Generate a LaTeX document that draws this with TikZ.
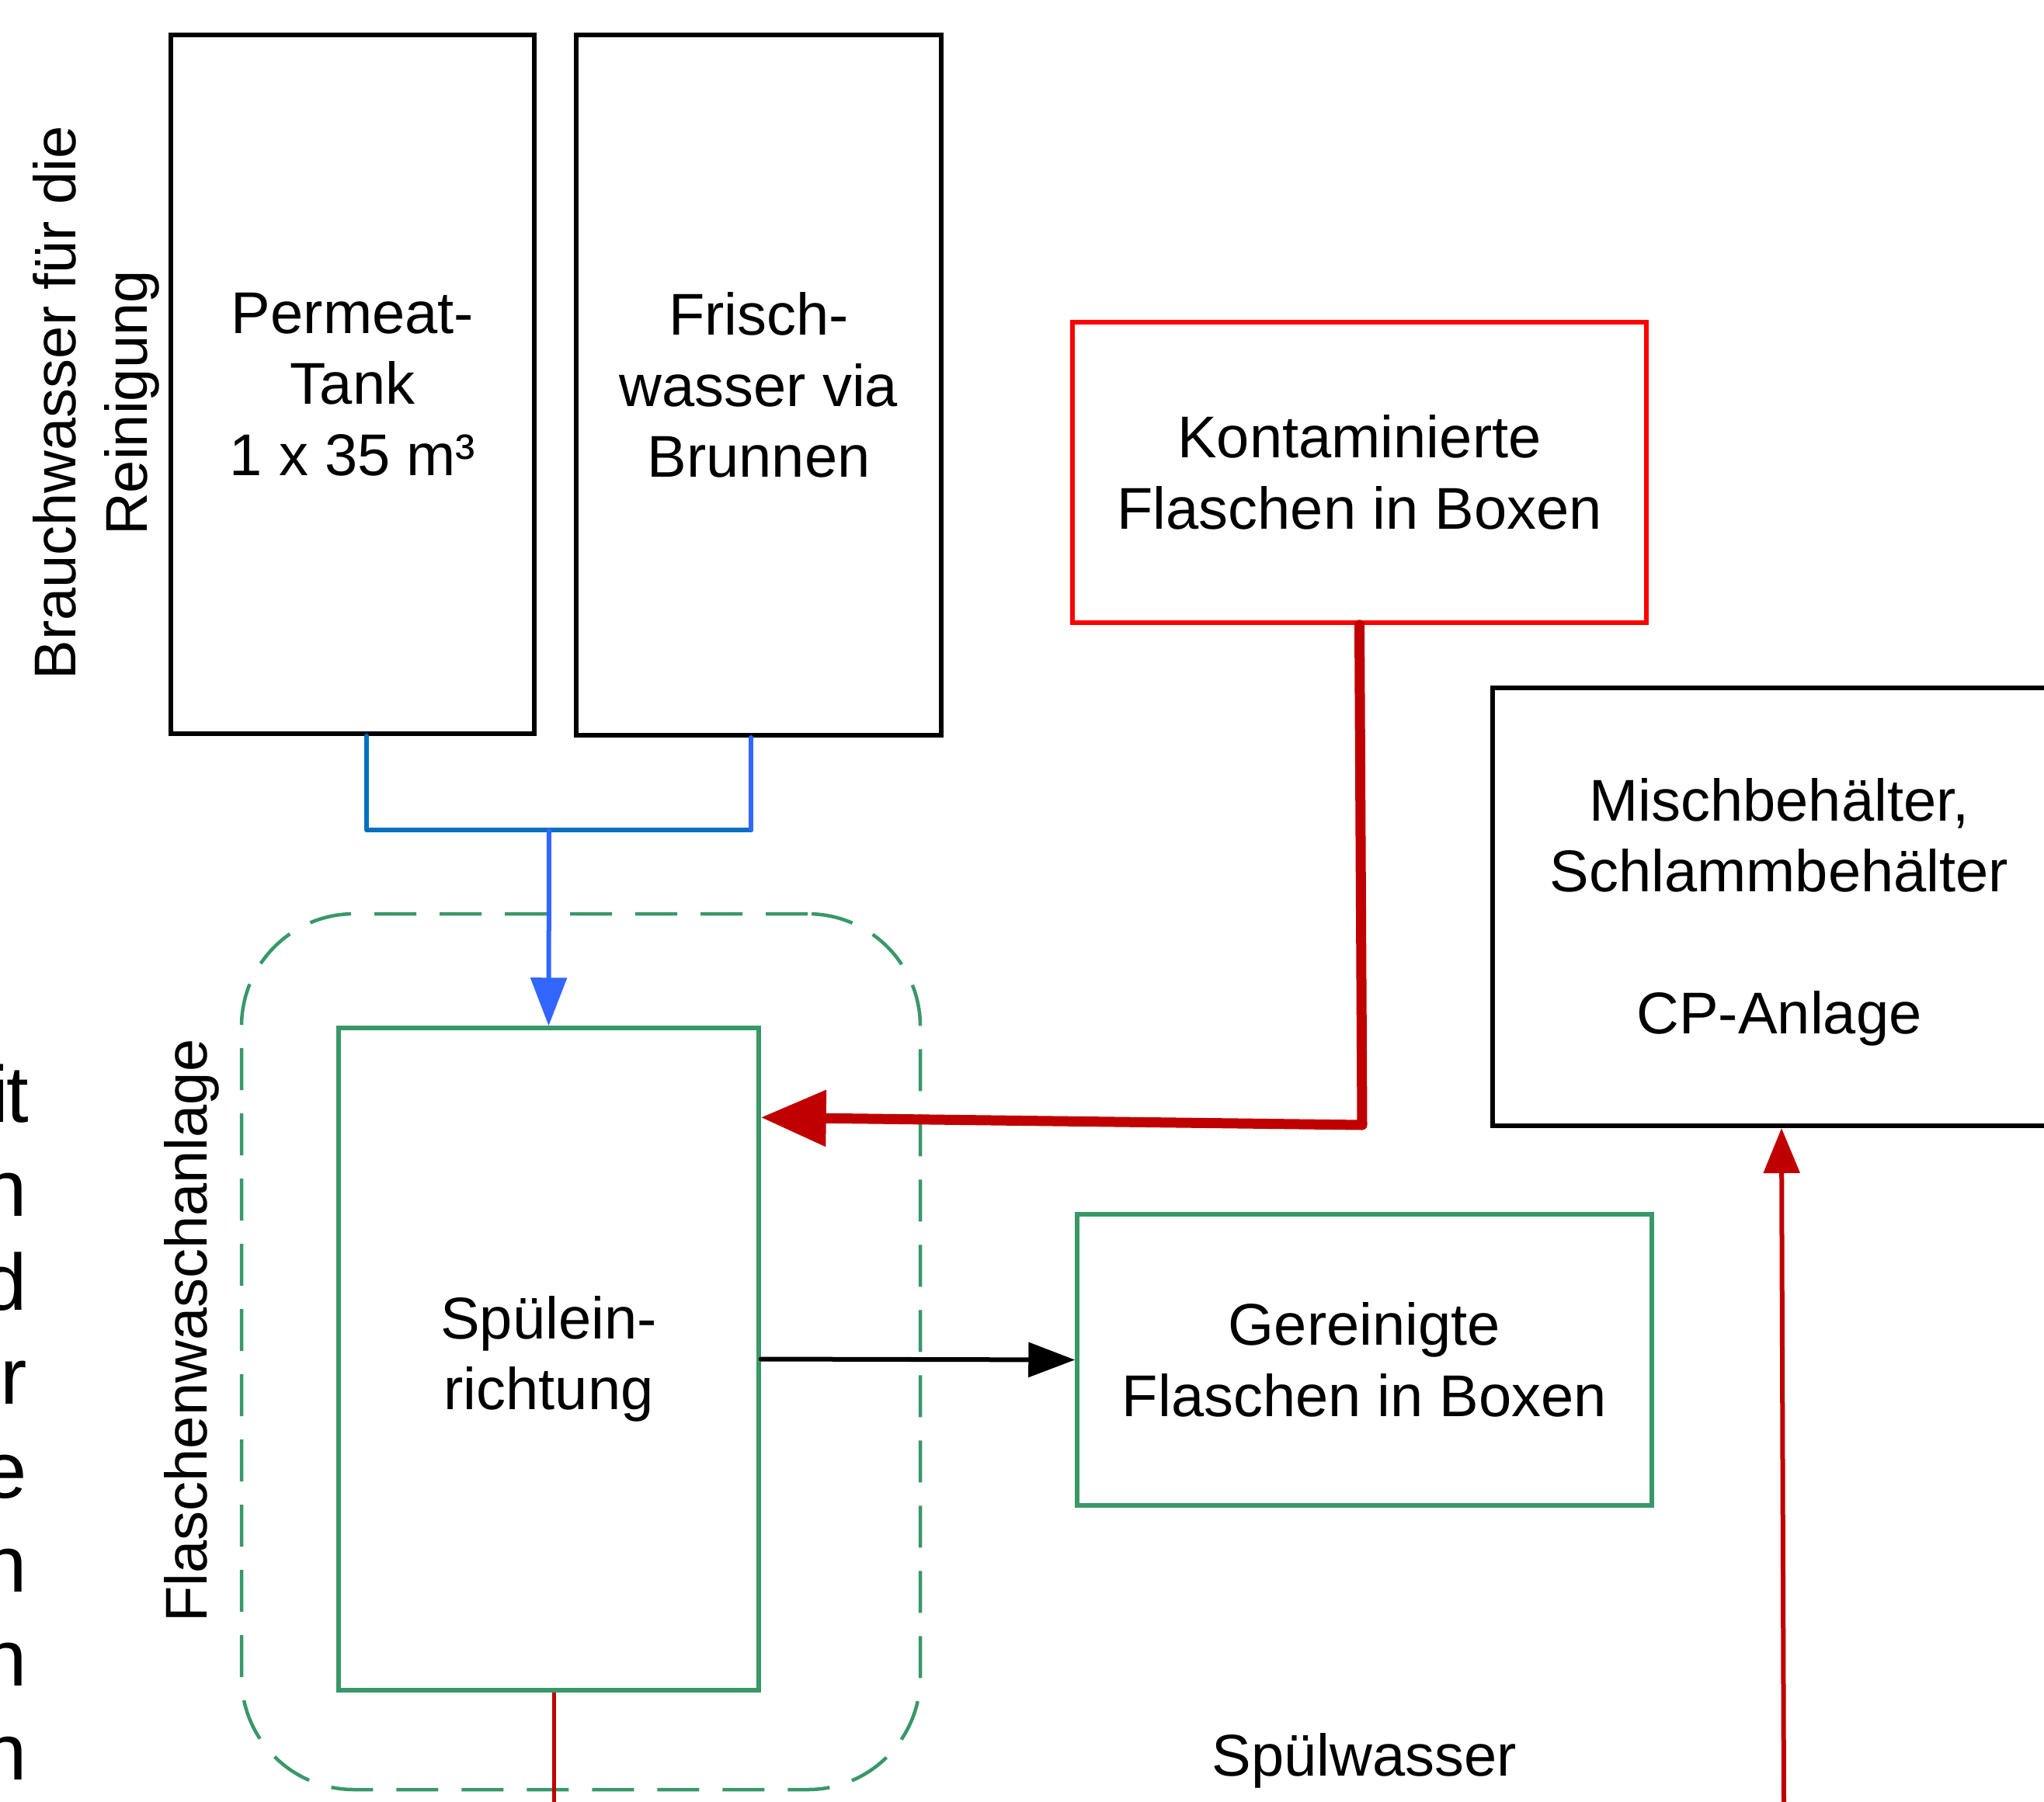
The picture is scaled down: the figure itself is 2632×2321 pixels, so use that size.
\documentclass[tikz,border=0pt]{standalone}
\usepackage{fontspec}
\setmainfont{Liberation Sans}
\usetikzlibrary{arrows.meta}
\definecolor{dkred}{RGB}{192,0,0}
\definecolor{boxred}{RGB}{255,0,0}
\definecolor{grn}{RGB}{56,152,104}
\definecolor{blueA}{RGB}{0,112,192}
\definecolor{blueB}{RGB}{51,102,255}
\tikzset{
  txt/.style={font=\fontsize{75.9pt}{91.5pt}\selectfont, inner sep=0pt, align=center},
  bigtxt/.style={font=\fontsize{103pt}{121pt}\selectfont, inner sep=0pt},
  blkbox/.style={txt, draw=black, line width=6pt},
  redbox/.style={txt, draw=boxred, line width=5.5pt},
  grnbox/.style={txt, draw=grn, line width=5.5pt},
  grpbox/.style={draw=grn, line width=4.5pt, dash pattern=on 54pt off 30pt, rounded corners=145pt},
  conn/.style={line cap=round, line join=round},
}
\begin{document}
\begin{tikzpicture}[x=1pt,y=-1pt]
\useasboundingbox (0,0) rectangle (2632,2321);

% boxes
\node[blkbox, minimum width=468pt, minimum height=900pt] (perm) at (454,495) {Permeat-\\Tank\\1 x 35 m³};
\node[blkbox, minimum width=470pt, minimum height=902pt] (frisch) at (977,496) {Frisch-\\wasser via\\Brunnen};
\node[redbox, minimum width=739pt, minimum height=387pt] (kont) at (1750.5,608.5) {Kontaminierte\\Flaschen in Boxen};
\node[blkbox, minimum width=738pt, minimum height=564pt] (misch) at (2291,1168) {\rule{0pt}{69pt}Mischbehälter,\\Schlammbehälter\\[91.5pt]CP-Anlage};
\node[grpbox, minimum width=874pt, minimum height=1128pt] (grp) at (748,1741) {};
\node[grnbox, minimum width=541pt, minimum height=853pt] (spul) at (706.5,1750.5) {Spülein-\\richtung};
\node[grnbox, minimum width=740pt, minimum height=375pt] (ger) at (1757,1751.5) {Gereinigte\\Flaschen in Boxen};

% labels
\node[txt, rotate=90] (brauch) at (124,519) {Brauchwasser für die\\Reinigung};
\node[txt, rotate=90] (fwa) at (247,1714) {Flaschenwaschanlage};
\node[txt] (spw) at (1757,2268) {Spülwasser};

% cut-off text at the left edge
\node[bigtxt, anchor=base east] (L0) at (37,1445) {i\kern-3pt t};
\foreach \t [count=\i from 1] in {n,d,r,e,n,n,n} {
  \node[bigtxt, anchor=base east] (L\i) at (35,1445+121*\i) {\t};
}

% blue supply lines
\coordinate (fj) at (967,1069);
\coordinate (mj) at (707,1069);
\draw[conn, blueA, line width=6pt] ([xshift=18pt]perm.south) |- (fj);
\draw[conn, blueB, line width=6pt] ([xshift=-10pt]frisch.south) -- (fj);
\draw[conn, blueB, line width=6pt, -{Triangle[length=62pt,width=46pt]}] (mj) -- (spul.north);

% contaminated bottles
\coordinate (rc) at (1754,1449);
\draw[conn, dkred, line width=13pt, -{Triangle[length=84pt,width=70pt]}] (kont.south) -- (rc) -- ([yshift=-118pt]spul.north east);

% cleaned bottles
\draw[conn, black, line width=6pt, -{Triangle[length=60pt,width=44pt]}] (spul.east) -- (ger.west);

% rinse water
\coordinate (sb) at (713,2321);
\draw[dkred, line width=5pt] ([xshift=6.5pt]spul.south) -- (sb);
\coordinate (rb) at (2297,2321);
\draw[dkred, line width=6pt, -{Triangle[length=58pt,width=46pt]}] (rb) -- ([xshift=3pt]misch.south);

\end{tikzpicture}
\end{document}
